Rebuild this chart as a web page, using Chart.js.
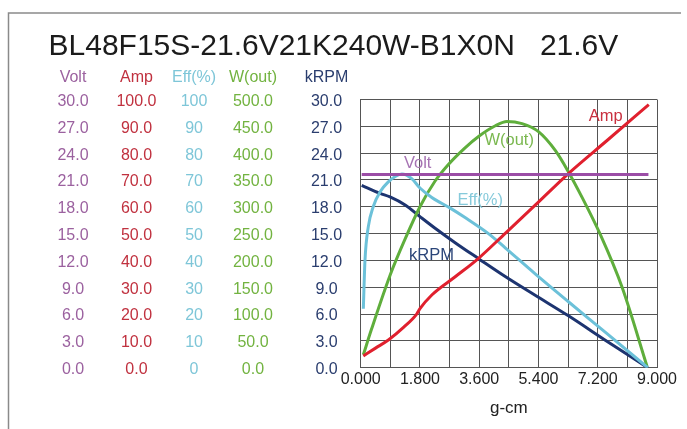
<!DOCTYPE html>
<html>
<head>
<meta charset="utf-8">
<title>BL48F15S-21.6V21K240W-B1X0N</title>
<script src="https://cdn.jsdelivr.net/npm/chart.js@4.4.1/dist/chart.umd.min.js"></script>
<style>
  body { margin: 0; background: #fff; }
  canvas { display: block; }
</style>
</head>
<body>
<canvas id="motorChart" width="687" height="429"></canvas>
<script>
const chartTitle = 'BL48F15S-21.6V21K240W-B1X0N   21.6V';

// torque axis (g-cm): grid every 0.9, label every 1.8
const xGrid = [0, 0.9, 1.8, 2.7, 3.6, 4.5, 5.4, 6.3, 7.2, 8.1, 9.0];
const xTickLabels = ['0.000', '1.800', '3.600', '5.400', '7.200', '9.000'];

// left axis columns
const voltTicks = ['0.0', '3.0', '6.0', '9.0', '12.0', '15.0', '18.0', '21.0', '24.0', '27.0', '30.0'];
const ampTicks = ['0.0', '10.0', '20.0', '30.0', '40.0', '50.0', '60.0', '70.0', '80.0', '90.0', '100.0'];
const effTicks = ['0', '10', '20', '30', '40', '50', '60', '70', '80', '90', '100'];
const wattTicks = ['0.0', '50.0', '100.0', '150.0', '200.0', '250.0', '300.0', '350.0', '400.0', '450.0', '500.0'];
const rpmTicks = ['0.0', '3.0', '6.0', '9.0', '12.0', '15.0', '18.0', '21.0', '24.0', '27.0', '30.0'];

// series
const voltTorque = [0.03, 8.74];
const voltValues = [21.6, 21.6];

const ampTorque = [0.08, 0.45, 0.84, 1.30, 1.70, 1.80, 2.16, 2.87, 3.58, 4.39, 5.30, 6.31, 7.50, 8.75];
const ampValues = [4.4, 7.3, 10.3, 15.0, 20.0, 22.0, 27.1, 33.9, 40.8, 50.1, 60.6, 72.4, 84.9, 98.1];

const effTorque = [0.08, 0.13, 0.23, 0.38, 0.59, 0.84, 1.05, 1.25, 1.55, 1.80, 2.16, 2.72, 3.17, 3.88, 4.39, 5.30, 6.31, 7.50, 8.72];
const effValues = [22, 40, 52.5, 60, 65.6, 69.3, 71.3, 72.2, 70.5, 67, 63.5, 59.5, 56, 50, 44.7, 35, 24.6, 12.5, 0];

const wattTorque = [0.08, 0.33, 0.89, 1.35, 1.80, 2.26, 2.65, 3.17, 3.60, 4.09, 4.44, 4.90, 5.40, 5.91, 6.31, 6.72, 7.28, 7.94, 8.70];
const wattValues = [24, 72, 172, 240, 300, 348, 378, 410, 432, 451, 459, 455, 440, 405, 365, 318, 248, 150, 2];

const rpmTorque = [0.03, 0.59, 0.89, 1.35, 1.80, 2.26, 2.90, 3.58, 4.39, 5.30, 6.31, 7.50, 8.72];
const rpmValues = [20.4, 19.5, 19.1, 18.2, 16.9, 15.6, 13.9, 12.2, 10.2, 8.1, 5.8, 2.9, 0];

const fontFamily = '"Liberation Sans", Arial, sans-serif';
const gridColor = '#555';

function series(label, xs, ys, color, axis) {
    return {
        label: label,
        data: xs.map((x, i) => ({ x: x, y: ys[i] })),
        borderColor: color,
        borderWidth: 3,
        pointRadius: 0,
        fill: false,
        cubicInterpolationMode: 'monotone',
        yAxisID: axis
    };
}

function yAxis(labels, max, color, pad, width, inner) {
    return {
        type: 'linear',
        position: 'left',
        min: 0,
        max: max,
        afterFit: function (scale) { scale.width = width; },
        ticks: {
            stepSize: max / 10,
            color: color,
            font: { family: fontFamily, size: 16 },
            padding: pad,
            crossAlign: 'center',
            labelOffset: 2,
            callback: (v, i) => labels[i]
        },
        grid: { display: inner, color: gridColor, drawTicks: false },
        border: { display: inner, color: gridColor }
    };
}

const headers = [
    { axis: 'yVolt', text: 'Volt', color: '#9b619f' },
    { axis: 'yAmp', text: 'Amp', color: '#c0313f' },
    { axis: 'yEff', text: 'Eff(%)', color: '#7ec6d8' },
    { axis: 'yWatt', text: 'W(out)', color: '#72b340' },
    { axis: 'yRpm', text: 'kRPM', color: '#2a3d6e' }
];

// frame, title, column headers and curve names
const decorations = {
    id: 'decorations',
    beforeDraw(chart) {
        const ctx = chart.ctx;
        ctx.save();
        ctx.fillStyle = '#fff';
        ctx.fillRect(0, 0, chart.width, chart.height);
        ctx.strokeStyle = '#8a8a8a';
        ctx.lineWidth = 1.5;
        ctx.beginPath();
        ctx.moveTo(8.5, chart.height);
        ctx.lineTo(8.5, 13);
        ctx.lineTo(681, 13);
        ctx.stroke();
        ctx.restore();
    },
    afterDraw(chart) {
        const ctx = chart.ctx;
        ctx.save();
        ctx.fillStyle = '#1b1b1b';
        ctx.font = '30px ' + fontFamily;
        ctx.textAlign = 'left';
        ctx.textBaseline = 'alphabetic';
        ctx.fillText(chartTitle, 48.5, 55);

        headers.forEach(h => {
            const s = chart.scales[h.axis];
            ctx.font = '16px ' + fontFamily;
            let widest = 0;
            s.ticks.forEach(t => { widest = Math.max(widest, ctx.measureText(t.label).width); });
            const cx = s.right - s.options.ticks.padding - widest / 2;
            ctx.fillStyle = h.color;
            ctx.textAlign = 'center';
            ctx.fillText(h.text, cx, 81.5);
        });

        const x = chart.scales.x;
        const y = chart.scales.yVolt;
        const names = [
            ['Volt', 1.73, 22.8, '#a673b3'],
            ['W(out)', 4.51, 25.4, '#7bb850'],
            ['Amp', 7.44, 28.1, '#c9303f'],
            ['Eff(%)', 3.63, 18.7, '#86cadb'],
            ['kRPM', 2.15, 12.5, '#2b4579']
        ];
        ctx.font = '16.5px ' + fontFamily;
        ctx.textAlign = 'center';
        ctx.textBaseline = 'middle';
        names.forEach(n => {
            ctx.fillStyle = n[3];
            ctx.fillText(n[0], x.getPixelForValue(n[1]), y.getPixelForValue(n[2]));
        });
        ctx.restore();
    }
};

const config = {
    type: 'line',
    data: {
        datasets: [
            series('Volt', voltTorque, voltValues, '#9b4da6', 'yVolt'),
            series('Amp', ampTorque, ampValues, '#e0202e', 'yAmp'),
            series('Eff(%)', effTorque, effValues, '#6cc1d9', 'yEff'),
            series('W(out)', wattTorque, wattValues, '#5fae3c', 'yWatt'),
            series('kRPM', rpmTorque, rpmValues, '#1d3470', 'yRpm')
        ]
    },
    options: {
        responsive: false,
        animation: false,
        layout: { padding: { left: 0, right: 30, top: 99.5, bottom: 0 } },
        plugins: {
            legend: { display: false },
            tooltip: { enabled: false }
        },
        scales: {
            x: {
                type: 'linear',
                min: 0,
                max: 9,
                afterBuildTicks: function (scale) { scale.ticks = xGrid.map(v => ({ value: v })); },
                afterFit: function (scale) { scale.height = 61.3; },
                ticks: {
                    autoSkip: false,
                    maxRotation: 0,
                    color: '#222',
                    font: { family: fontFamily, size: 16 },
                    padding: 2,
                    callback: (v, i) => (i % 2 === 0 ? xTickLabels[i / 2] : '')
                },
                grid: { color: gridColor, drawTicks: false },
                border: { color: gridColor },
                title: {
                    display: true,
                    text: 'g-cm',
                    color: '#222',
                    font: { family: fontFamily, size: 17 },
                    padding: { top: 0, bottom: 10 }
                }
            },
            // listed innermost first: the last one ends up at the far left
            yRpm: yAxis(rpmTicks, 30, '#2a3d6e', 18.6, 70.7, true),
            yWatt: yAxis(wattTicks, 500, '#72b340', 17, 70, false),
            yEff: yAxis(effTicks, 100, '#7ec6d8', 12.6, 50, false),
            yAmp: yAxis(ampTicks, 100, '#c0313f', 13.5, 70, false),
            yVolt: yAxis(voltTicks, 30, '#9b619f', 11.4, 100, false)
        }
    },
    plugins: [decorations]
};

const motorChart = new Chart(document.getElementById('motorChart'), config);
</script>
</body>
</html>
